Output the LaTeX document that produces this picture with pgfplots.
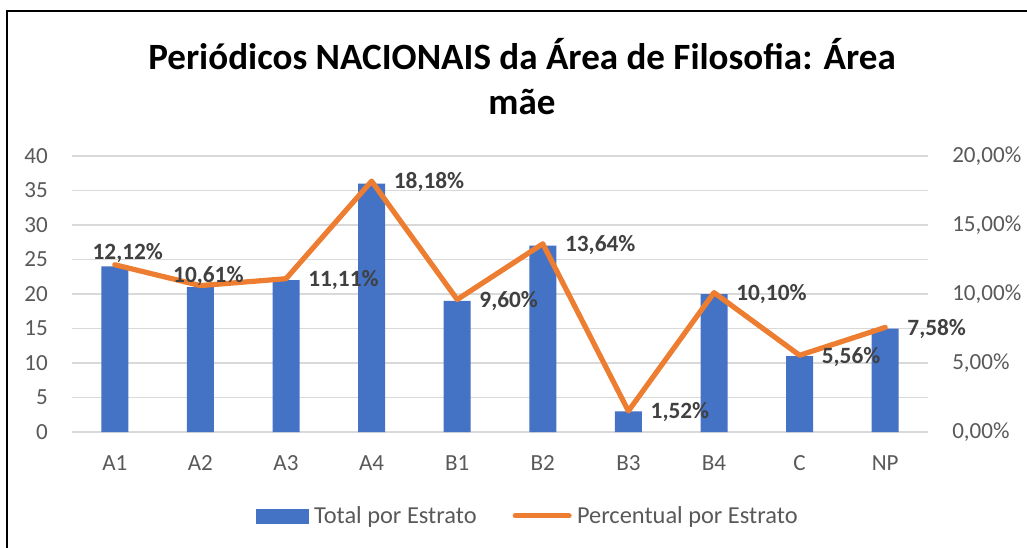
\documentclass[border=0pt]{standalone}
\usepackage{pgfplots}
\pgfplotsset{compat=1.18}
\usepackage{fontspec}
\setmainfont{Carlito}
\definecolor{barblue}{HTML}{4472C4}
\definecolor{lineorange}{HTML}{ED7D31}
\definecolor{gridgray}{HTML}{D9D9D9}
\definecolor{ticktext}{HTML}{595959}
\definecolor{labeltext}{HTML}{404040}
\begin{document}
\begin{tikzpicture}
\useasboundingbox (0pt,0pt) rectangle (770.25pt,-410.25pt);
\draw[line width=1.5pt,black] (5.6pt,-8.6pt) rectangle (800pt,-440pt);
\node[font=\fontsize{27.8}{34}\selectfont\bfseries,align=center,text=black] at (391.5pt,-57.5pt)
  {Periódicos NACIONAIS da Área de Filosofia: Área\\mãe};
\begin{axis}[
  at={(54pt,-324pt)}, anchor=south west,
  scale only axis, width=642pt, height=207pt,
  xmin=-0.5, xmax=9.5, ymin=0, ymax=40,
  axis x line*=bottom, axis y line*=left,
  axis line style={draw=none},
  ytick={0,5,...,40},
  xtick={0,...,9},
  xticklabels={A1,A2,A3,A4,B1,B2,B3,B4,C,NP},
  ymajorgrids, major grid style={gridgray,line width=1.1pt},
  tick style={draw=none},
  /pgf/number format/assume math mode=true,
  ticklabel style={font=\fontsize{17.3}{20}\selectfont,text=ticktext},
  yticklabel style={anchor=east,inner sep=0pt,xshift=-18pt},
  xticklabel style={anchor=base,inner sep=0pt,yshift=-28.5pt},
  clip=false,
]
\addplot[ybar, bar width=20.25pt, fill=barblue, draw=none, bar shift=0pt]
  coordinates {(0,24) (1,21) (2,22) (3,36) (4,19) (5,27) (6,3) (7,20) (8,11) (9,15)};
\end{axis}
\begin{axis}[
  at={(54pt,-324pt)}, anchor=south west,
  scale only axis, width=642pt, height=207pt,
  xmin=-0.5, xmax=9.5, ymin=0, ymax=20,
  axis y line*=right,
  axis x line=none,
  axis line style={draw=none},
  ytick={0,5,10,15,20},
  yticklabels={{0,00\%},{5,00\%},{10,00\%},{15,00\%},{20,00\%}},
  tick style={draw=none},
  ticklabel style={font=\fontsize{17.3}{20}\selectfont,text=ticktext},
  yticklabel style={anchor=west,inner sep=0pt,xshift=18pt},
  xtick=\empty,
  clip=false,
  legend style={at={(0.533,-0.304)}, anchor=center, draw=none, fill=none,
    legend columns=2, font=\fontsize{18.3}{21}\selectfont, text=ticktext,
    /tikz/every odd column/.append style={column sep=2pt},
    /tikz/every even column/.append style={column sep=25pt},
    inner sep=0pt, row sep=0pt},
  legend cell align=left,
]
\addlegendimage{legend image code/.code={\fill[barblue] (0pt,-5.25pt) rectangle (39pt,5.25pt);}}
\addlegendentry{Total por Estrato}
\addlegendimage{legend image code/.code={\draw[lineorange,line width=3.75pt,line cap=round] (0pt,0pt) -- (40.5pt,0pt);}}
\addlegendentry{Percentual por Estrato}
\addplot[lineorange, line width=3.9pt, line join=round, line cap=round, forget plot]
  coordinates {(0,12.12) (1,10.61) (2,11.11) (3,18.18) (4,9.60) (5,13.64) (6,1.52) (7,10.10) (8,5.56) (9,7.58)};
\addplot[draw=none, mark=none, forget plot, point meta=explicit symbolic,
  nodes near coords, every node near coord/.append style={anchor=west, inner sep=0pt,
  xshift=16.5pt, yshift=-1pt, font=\fontsize{17.5}{20}\selectfont\bfseries, text=labeltext}]
  coordinates {(2,11.11) [11,11\%] (3,18.18) [18,18\%] (4,9.60) [9,60\%] (5,13.64) [13,64\%]
   (6,1.52) [1,52\%] (7,10.10) [10,10\%] (8,5.56) [5,56\%] (9,7.58) [7,58\%]};
\addplot[draw=none, mark=none, forget plot, point meta=explicit symbolic,
  nodes near coords, every node near coord/.append style={anchor=center, inner sep=0pt,
  xshift=9.75pt, yshift=9pt, font=\fontsize{17.5}{20}\selectfont\bfseries, text=labeltext}]
  coordinates {(0,12.12) [12,12\%]};
\addplot[draw=none, mark=none, forget plot, point meta=explicit symbolic,
  nodes near coords, every node near coord/.append style={anchor=center, inner sep=0pt,
  xshift=6pt, yshift=7.5pt, font=\fontsize{17.5}{20}\selectfont\bfseries, text=labeltext}]
  coordinates {(1,10.61) [10,61\%]};
\end{axis}
\end{tikzpicture}
\end{document}
